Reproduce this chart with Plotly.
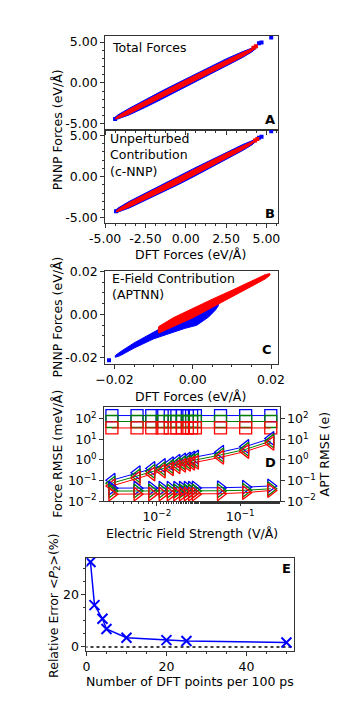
import plotly.graph_objects as go

# page has an 8px body margin; figure is shrunk so it fits the 357x723 window
OFF = 8
W, H = 357 - 2 * OFF, 723 - 2 * OFF
BLUE, RED, GREEN = "#0000ff", "#ff0000", "#008000"
FS = 12.5

# ---------------- data ----------------
# Panel A: band envelopes (centre line + half width)
a_blue_x = [-4.45, -4.2, -3.5, -2.5, -1.5, -0.5, 0.5, 1.5, 2.5, 3.5, 4.1, 4.4]
a_blue_y = [-4.4, -4.15, -3.5, -2.5, -1.5, -0.5, 0.5, 1.5, 2.5, 3.45, 4.05, 4.4]
a_blue_hw = [0.1, 0.25, 0.4, 0.48, 0.5, 0.5, 0.5, 0.48, 0.44, 0.36, 0.25, 0.1]
a_red_x = [-4.35, -4.1, -3.5, -2.5, -1.5, -0.5, 0.5, 1.5, 2.5, 3.5, 4.0, 4.3]
a_red_y = [-4.35, -4.1, -3.5, -2.5, -1.5, -0.5, 0.5, 1.5, 2.5, 3.45, 3.95, 4.3]
a_red_hw = [0.07, 0.17, 0.27, 0.33, 0.35, 0.35, 0.35, 0.33, 0.3, 0.25, 0.17, 0.07]
a_blue_out_x = [4.54, 4.7, 5.3, -4.38]
a_blue_out_y = [4.85, 4.95, 5.55, -4.42]
a_red_out_x = [4.35, 4.2]
a_red_out_y = [4.48, 4.3]

# Panel B
b_blue_x = [-4.4, -4.2, -3.5, -2.5, -1.5, -0.5, 0.5, 1.5, 2.5, 3.5, 4.1, 4.4]
b_blue_y = [-4.25, -4.05, -3.4, -2.45, -1.45, -0.5, 0.5, 1.5, 2.5, 3.5, 4.1, 4.45]
b_blue_hw = [0.1, 0.25, 0.4, 0.48, 0.5, 0.5, 0.5, 0.48, 0.44, 0.36, 0.25, 0.1]
b_red_x = [-4.3, -4.1, -3.5, -2.5, -1.5, -0.5, 0.5, 1.5, 2.5, 3.5, 4.0, 4.3]
b_red_y = [-4.2, -4.0, -3.4, -2.45, -1.45, -0.5, 0.5, 1.5, 2.5, 3.5, 4.0, 4.35]
b_red_hw = [0.07, 0.17, 0.27, 0.33, 0.35, 0.35, 0.35, 0.33, 0.3, 0.25, 0.17, 0.07]
b_blue_out_x = [4.54, 4.7, 5.3, -4.32]
b_blue_out_y = [4.72, 4.85, 5.5, -4.2]
b_red_out_x = [4.44, 4.3]
b_red_out_y = [4.56, 4.4]

# Panel C
c_blue_x = [-0.0198, -0.0185, -0.015, -0.01, -0.007, -0.0045, -0.002, 0.001, 0.004, 0.0058, 0.0066]
c_blue_y = [-0.0196, -0.0183, -0.0145, -0.0098, -0.0074, -0.0051, -0.0029, -0.0009, 0.0018, 0.0035, 0.0045]
c_blue_hw = [0.0004, 0.0009, 0.0012, 0.0016, 0.0021, 0.0029, 0.0036, 0.0042, 0.0031, 0.0015, 0.0003]
c_red_x = [-0.0088, -0.0087, -0.005, 0.0, 0.005, 0.01, 0.015, 0.0185, 0.0197]
c_red_y = [-0.0072, -0.0072, -0.0037, 0.0006, 0.0052, 0.0097, 0.0142, 0.0175, 0.0186]
c_red_hw = [0.0003, 0.0015, 0.0021, 0.0022, 0.0019, 0.0015, 0.0012, 0.001, 0.0004]
c_blue_out_x = [-0.0214]
c_blue_out_y = [-0.0214]

# Panel D
field = [0.0029, 0.0058, 0.0087, 0.0116, 0.0145, 0.0174, 0.0203, 0.0232, 0.0261, 0.029,
         0.058, 0.116, 0.232]
sq_blue = [144] * 13
sq_green = [74] * 13
sq_red = [36] * 13
lt_blue = [0.104, 0.24, 0.39, 0.54, 0.67, 0.87, 1.0, 1.12, 1.25, 1.39, 2.4, 4.5, 11.2]
lt_green = [0.075, 0.17, 0.28, 0.38, 0.48, 0.62, 0.72, 0.8, 0.9, 1.0, 1.75, 3.3, 8.3]
lt_red = [0.055, 0.13, 0.21, 0.29, 0.37, 0.47, 0.55, 0.62, 0.7, 0.77, 1.35, 2.6, 6.5]
rt_blue = [0.043, 0.043, 0.043, 0.043, 0.043, 0.043, 0.043, 0.043, 0.043, 0.044, 0.045, 0.048, 0.055]
rt_green = [0.031, 0.031, 0.031, 0.031, 0.031, 0.031, 0.031, 0.031, 0.031, 0.031, 0.032, 0.034, 0.040]
rt_red = [0.022, 0.022, 0.022, 0.022, 0.022, 0.022, 0.022, 0.022, 0.022, 0.022, 0.023, 0.026, 0.033]

# Panel E
n_dft = [1, 2, 4, 5, 10, 20, 25, 50]
rel_err = [32.5, 16.0, 10.8, 6.9, 3.5, 2.6, 2.3, 1.7]

# tick labels
ab_xt = [-5, -2.5, 0, 2.5, 5]
ab_xt_text = ["-5.00", "-2.50", "0.00", "2.50", "5.00"]
ab_yt = [-5, 0, 5]
ab_yt_text = ["-5.00", "0.00", "5.00"]
c_t = [-0.02, 0.0, 0.02]
c_xt_text = ["\u22120.02", "0.00", "0.02"]
c_yt_text = ["-0.02", "0.00", "0.02"]
d_xt = [0.01, 0.1]
d_xt_text = ["10<sup>\u22122</sup>", "10<sup>\u22121</sup>"]
d_yt = [0.01, 0.1, 1, 10, 100]
d_yt_text = ["10<sup>\u22122</sup>", "10<sup>\u22121</sup>", "10<sup>0</sup>", "10<sup>1</sup>", "10<sup>2</sup>"]
e_xt = [0, 20, 40]
e_yt = [0, 20]


def band(xs, ys, hw):
    px = list(xs) + list(xs[::-1])
    py = [y + h for y, h in zip(ys, hw)] + [y - h for y, h in zip(ys[::-1], hw[::-1])]
    return px + [px[0]], py + [py[0]]


fig = go.Figure()


def add_band(xs, ys, hw, color, xa, ya):
    px, py = band(xs, ys, hw)
    fig.add_trace(go.Scatter(x=px, y=py, mode="lines", fill="toself", fillcolor=color,
                             line=dict(color=color, width=1), xaxis=xa, yaxis=ya,
                             showlegend=False, hoverinfo="skip"))


def add_pts(xs, ys, color, xa, ya, size=4):
    fig.add_trace(go.Scatter(x=xs, y=ys, mode="markers",
                             marker=dict(color=color, symbol="square", size=size, line=dict(width=0)),
                             xaxis=xa, yaxis=ya, showlegend=False))


# A
add_band(a_blue_x, a_blue_y, a_blue_hw, BLUE, "x", "y")
add_pts(a_blue_out_x, a_blue_out_y, BLUE, "x", "y")
add_band(a_red_x, a_red_y, a_red_hw, RED, "x", "y")
add_pts(a_red_out_x, a_red_out_y, RED, "x", "y")
# B
add_band(b_blue_x, b_blue_y, b_blue_hw, BLUE, "x2", "y2")
add_pts(b_blue_out_x, b_blue_out_y, BLUE, "x2", "y2")
add_band(b_red_x, b_red_y, b_red_hw, RED, "x2", "y2")
add_pts(b_red_out_x, b_red_out_y, RED, "x2", "y2")
# C
add_band(c_blue_x, c_blue_y, c_blue_hw, BLUE, "x3", "y3")
add_pts(c_blue_out_x, c_blue_out_y, BLUE, "x3", "y3")
add_band(c_red_x, c_red_y, c_red_hw, RED, "x3", "y3")


# D
def add_d(ys, color, symbol, ya, size):
    fig.add_trace(go.Scatter(x=field, y=ys, mode="lines+markers", xaxis="x4", yaxis=ya,
                             line=dict(color=color, width=1),
                             marker=dict(symbol=symbol, size=size, color=color,
                                         line=dict(color=color, width=1.3)),
                             showlegend=False))


for ys, c in [(sq_blue, BLUE), (sq_green, GREEN), (sq_red, RED)]:
    add_d(ys, c, "square-open", "y4", 12)
for ys, c in [(lt_blue, BLUE), (lt_green, GREEN), (lt_red, RED)]:
    add_d(ys, c, "triangle-left-open", "y4", 12)
for ys, c in [(rt_blue, BLUE), (rt_green, GREEN), (rt_red, RED)]:
    add_d(ys, c, "triangle-right-open", "y5", 12)

# E
fig.add_trace(go.Scatter(x=[-5, 60], y=[0, 0], mode="lines", xaxis="x6", yaxis="y6",
                         line=dict(color="black", width=1.5, dash="dot"), showlegend=False))
fig.add_trace(go.Scatter(x=n_dft, y=rel_err, mode="lines+markers", xaxis="x6", yaxis="y6",
                         line=dict(color=BLUE, width=1.5),
                         marker=dict(symbol="x-thin-open", size=10, color=BLUE,
                                     line=dict(color=BLUE, width=2)),
                         showlegend=False))


def px2x(a, b):
    return [(a - OFF) / W, (b - OFF) / W]


def px2y(top, bot):
    return [1 - (bot - OFF) / H, 1 - (top - OFF) / H]


AX = dict(showline=True, mirror=True, linecolor="#333333", linewidth=1, ticks="outside",
          ticklen=4, tickwidth=1, tickcolor="#333333", showgrid=False, zeroline=False,
          tickfont=dict(size=FS, color="black"))


def minor(d):
    return dict(ticks="outside", ticklen=2, tickwidth=0.8, tickcolor="#333333", dtick=d, showgrid=False)


fig.update_layout(
    width=W, height=H, margin=dict(l=0, r=0, t=0, b=0),
    paper_bgcolor="white", plot_bgcolor="white",
    font=dict(family="DejaVu Sans", size=FS, color="black"),
    showlegend=False,
    xaxis=dict(AX, domain=px2x(95, 280), anchor="y", range=[-5, 5.7], tickvals=ab_xt,
               ticktext=ab_xt_text, showticklabels=False, minor=minor(0.625)),
    yaxis=dict(AX, domain=px2y(29, 125), anchor="x", range=[-5.72, 5.8], tickvals=ab_yt,
               ticktext=ab_yt_text, minor=minor(1)),
    xaxis2=dict(AX, domain=px2x(95, 280), anchor="y2", range=[-5, 5.7], tickvals=ab_xt,
                ticktext=ab_xt_text, minor=minor(0.625)),
    yaxis2=dict(AX, domain=px2y(125, 220), anchor="x2", range=[-5.6, 5.7], tickvals=ab_yt,
                ticktext=ab_yt_text, minor=minor(1)),
    xaxis3=dict(AX, domain=px2x(95, 280), anchor="y3", range=[-0.0224, 0.0217], tickvals=c_t,
                ticktext=c_xt_text, minor=minor(0.005)),
    yaxis3=dict(AX, domain=px2y(269, 364), anchor="x3", range=[-0.0231, 0.0203], tickvals=c_t,
                ticktext=c_yt_text, minor=minor(0.005)),
    xaxis4=dict(AX, domain=px2x(94, 282), anchor="y4", type="log", range=[-2.63, -0.53],
                tickvals=d_xt, ticktext=d_xt_text,
                minor=dict(ticks="outside", ticklen=2, tickwidth=0.8, tickcolor="#333333", showgrid=False)),
    yaxis4=dict(AX, domain=px2y(408, 504), anchor="x4", type="log", range=[-2, 2.57],
                tickvals=d_yt, ticktext=d_yt_text),
    yaxis5=dict(AX, domain=px2y(408, 504), anchor="x4", overlaying="y4", side="right",
                type="log", range=[-2, 2.57], tickvals=d_yt, ticktext=d_yt_text, mirror=False),
    xaxis6=dict(AX, domain=px2x(75, 298), anchor="y6", range=[0, 52], tickvals=e_xt,
                minor=minor(5)),
    yaxis6=dict(AX, domain=px2y(562, 657), anchor="x6", range=[-1.6, 34], tickvals=e_yt,
                minor=minor(5)),
)


def ann(text, x, y, size=FS, angle=0, xanchor="center", yanchor="middle", bold=False, align="center"):
    if bold:
        text = "<b>" + text + "</b>"
    fig.add_annotation(text=text, x=(x - OFF) / W, y=1 - (y - OFF) / H, xref="paper", yref="paper",
                       showarrow=False, textangle=angle, xanchor=xanchor, yanchor=yanchor,
                       align=align,
                       font=dict(size=size, color="black", family="DejaVu Sans"))


# axis titles
ann("PNNP Forces (eV/Å)", 44, 125, angle=-90)
ann("DFT Forces (eV/Å)", 187, 252)
ann("PNNP Forces (eV/Å)", 44, 316, angle=-90)
ann("DFT Forces (eV/Å)", 187, 397)
ann("Force RMSE (meV/Å)", 44, 456, angle=-90)
ann("APT RMSE (e)", 330, 456, angle=-90)
ann("Electric Field Strength (V/Å)", 188, 537)
ann("Relative Error &lt;<i>P</i><sub>2</sub>&gt;(%)", 40, 610, angle=-90)
ann("Number of DFT points per 100 ps", 186, 688)

# in-panel texts
ann("Total Forces", 100, 41, xanchor="left")
ann("Unperturbed<br>Contribution<br>(c-NNP)", 98, 151, xanchor="left", align="left")
ann("E-Field Contribution<br>(APTNN)", 100, 285, xanchor="left", align="left")
ann("A", 272, 115, size=13, bold=True)
ann("B", 272, 210, size=13, bold=True)
ann("C", 269, 349, size=13, bold=True)
ann("D", 272, 465, size=13, bold=True)
ann("E", 289, 573, size=13, bold=True)

fig.write_html("out.html")
